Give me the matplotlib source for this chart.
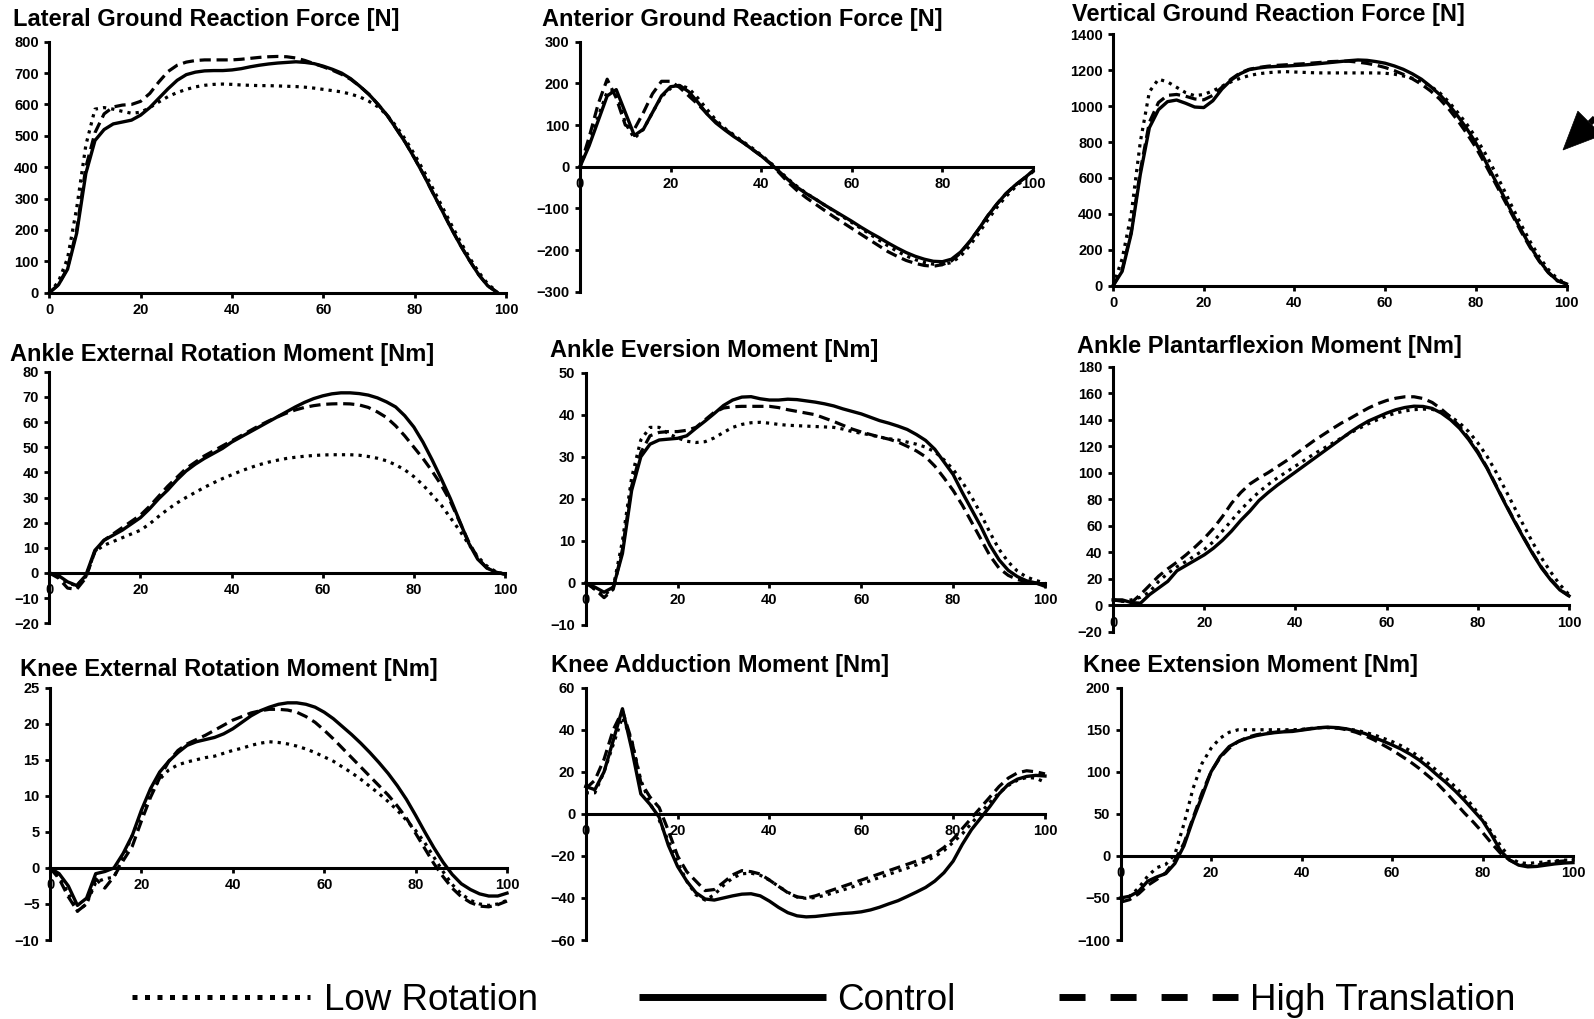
import numpy as np
import matplotlib
matplotlib.use("Agg")
import matplotlib.pyplot as plt
from matplotlib.lines import Line2D
from matplotlib.patches import Polygon

plt.rcParams["font.family"] = ["Liberation Sans", "DejaVu Sans"]

nan = np.nan
stance = np.arange(0, 101, 2)  # % of stance phase

titles = [
    "Lateral Ground Reaction Force [N]",
    "Anterior Ground Reaction Force [N]",
    "Vertical Ground Reaction Force [N]",
    "Ankle External Rotation Moment [Nm]",
    "Ankle Eversion Moment [Nm]",
    "Ankle Plantarflexion Moment [Nm]",
    "Knee External Rotation Moment [Nm]",
    "Knee Adduction Moment [Nm]",
    "Knee Extension Moment [Nm]",
]
x_ticks = [0, 20, 40, 60, 80, 100]
y_ranges = [(0, 800, 100), (-300, 300, 100), (0, 1400, 200),
            (-20, 80, 10), (-10, 50, 10), (-20, 180, 20),
            (-10, 25, 5), (-60, 60, 20), (-100, 200, 50)]
legend_labels = ["Low Rotation", "Control", "High Translation"]

# Lateral GRF
lat_low = [0, 35, 110, 270, 470, 585, 590, 585, 578, 572, 575, 590, 608, 625, 638,
           648, 656, 661, 664, 665, 664, 662, 661, 660, 660, 659, 658, 657, 655, 652,
           648, 644, 640, 633, 624, 610, 592, 565, 530, 488, 440, 388, 332, 275, 218,
           163, 112, 66, 28, 4, nan]
lat_ctrl = [0, 25, 75, 190, 380, 485, 520, 538, 544, 550, 566, 590, 620, 650, 677,
            695, 703, 707, 708, 708, 710, 714, 720, 725, 729, 732, 734, 736, 734, 730,
            722, 712, 700, 682, 658, 632, 600, 565, 522, 478, 428, 375, 318, 262, 205,
            152, 103, 58, 22, 2, nan]
lat_high = [0, 25, 80, 200, 400, 510, 570, 592, 598, 600, 610, 635, 672, 705, 725,
            735, 740, 742, 742, 742, 742, 744, 747, 750, 752, 753, 752, 748, 740, 730,
            720, 709, 696, 680, 658, 632, 600, 565, 522, 478, 428, 375, 318, 262, 205,
            152, 103, 58, 22, 2, nan]

# Anterior GRF
ant_low = [0, 55, 120, 180, 180, 105, 68, 90, 130, 168, 188, 196, 188, 165, 138,
           112, 92, 76, 60, 45, 28, 10, -10, -30, -48, -64, -78, -92, -106, -120,
           -134, -148, -162, -176, -190, -203, -214, -223, -230, -234, -235, -230, -215, -190, -160,
           -128, -98, -72, -50, -30, -12]
ant_ctrl = [0, 50, 110, 170, 185, 130, 75, 90, 130, 170, 192, 195, 180, 155, 127,
            105, 88, 72, 58, 42, 26, 8, -12, -32, -50, -65, -78, -92, -105, -118,
            -131, -145, -158, -170, -183, -195, -206, -215, -222, -227, -228, -222, -205, -180, -150,
            -118, -90, -65, -45, -28, -10]
ant_high = [0, 70, 150, 210, 165, 100, 90, 130, 175, 205, 205, 190, 170, 150, 128,
            108, 90, 74, 58, 42, 26, 8, -15, -38, -58, -75, -90, -105, -120, -134,
            -148, -162, -176, -190, -204, -215, -225, -232, -237, -239, -235, -226, -207, -180, -150,
            -118, -90, -65, -45, -28, -10]

# Vertical GRF
vert_low = [0, 150, 400, 800, 1080, 1150, 1135, 1105, 1075, 1058, 1065, 1085, 1110, 1135, 1155,
            1170, 1180, 1186, 1190, 1192, 1190, 1188, 1186, 1185, 1185, 1185, 1185, 1185, 1185, 1185,
            1183, 1178, 1168, 1155, 1138, 1112, 1075, 1025, 965, 900, 825, 740, 645, 545, 440,
            340, 245, 160, 90, 38, 12]
vert_ctrl = [0, 80, 290, 620, 880, 980, 1025, 1034, 1016, 995, 992, 1030, 1095, 1145, 1180,
             1203, 1212, 1218, 1221, 1223, 1226, 1229, 1233, 1238, 1243, 1248, 1253, 1257, 1255, 1248,
             1239, 1224, 1205, 1180, 1150, 1110, 1065, 1010, 945, 875, 795, 700, 600, 505, 405,
             310, 220, 140, 75, 28, 10]
vert_high = [0, 90, 300, 640, 910, 1020, 1060, 1065, 1055, 1040, 1035, 1060, 1105, 1150, 1185,
             1205, 1215, 1222, 1227, 1230, 1233, 1236, 1240, 1244, 1248, 1250, 1250, 1245, 1238, 1228,
             1215, 1198, 1177, 1152, 1122, 1085, 1040, 985, 920, 848, 770, 680, 585, 490, 395,
             300, 212, 135, 72, 27, 10]

# Ankle external rotation moment
aer_low = [0, -1.5, -4, -5, -1.5, 8.5, 11, 12.5, 14, 15.5, 17, 19.5, 22.5, 25.3, 27.8,
           30, 32, 34, 35.8, 37.5, 39, 40.5, 41.8, 43, 44, 44.8, 45.5, 46, 46.4, 46.7,
           46.9, 47, 47, 47, 46.8, 46.3, 45.6, 44.6, 43, 41, 38.3, 35, 31, 27, 22,
           17, 11.5, 6.5, 2.8, 0.5, -0.5]
aer_ctrl = [0, -1, -3.5, -5, -1, 9, 13, 15, 17, 19.5, 22, 25.5, 29.5, 33, 37,
            40.5, 43.2, 45.5, 47.5, 49.5, 52, 54, 56, 58, 60, 62, 64, 66, 67.8, 69.3,
            70.4, 71.2, 71.6, 71.6, 71.3, 70.7, 69.6, 68, 66, 62.5, 58, 52, 45, 37.5, 29.6,
            20.8, 12, 5.5, 2, 0.3, -0.5]
aer_high = [0, -2, -6, -6.5, -2, 8.5, 13, 15.5, 18, 20.5, 23, 26.5, 30.5, 34.5, 38,
            41.5, 44, 46.5, 48.5, 50.5, 52.5, 54.5, 56.5, 58.5, 60.3, 62, 63.5, 64.8, 65.8, 66.5,
            67, 67.2, 67.3, 67.2, 66.8, 65.8, 64, 61.8, 58.5, 54.5, 50, 45.5, 40.5, 35, 28.5,
            20.5, 12.5, 6, 2, 0.3, -0.5]

# Ankle eversion moment
aev_low = [0, -1.5, -3, -1, 10, 25, 34, 37, 37, 35.5, 34.5, 33.7, 33.4, 33.6, 34.5,
           35.8, 37, 37.7, 38.1, 38.2, 38, 37.7, 37.5, 37.4, 37.3, 37.2, 37.1, 37, 36.6, 36,
           35.6, 35.2, 34.7, 34.3, 34, 33.5, 33, 32.3, 31.2, 29.3, 27, 24, 20.5, 16.5, 12,
           8, 5, 2.8, 1.4, 0.6, 0]
aev_ctrl = [0, -1, -2.2, -1, 7, 22, 30, 33, 34, 34.2, 34.4, 35, 36.8, 38.5, 40.3,
            42.2, 43.5, 44.2, 44.3, 43.8, 43.5, 43.5, 43.7, 43.6, 43.3, 43, 42.6, 42.1, 41.4, 40.8,
            40.2, 39.4, 38.6, 38, 37.3, 36.5, 35.3, 33.9, 31.8, 28.8, 25.8, 21.5, 17.5, 13.5, 9,
            5.5, 3, 1.5, 0.5, 0, -0.8]
aev_high = [0, -1.5, -3.5, -1.5, 8, 23, 31, 35, 35.8, 36, 36, 36.3, 37, 38.8, 40.6,
            41.6, 41.9, 42, 42, 42, 42, 41.7, 41.2, 40.8, 40.4, 40, 39.2, 38.4, 37.5, 36.6,
            35.9, 35.3, 34.7, 34.2, 33.5, 32.5, 31.4, 30, 27.8, 25, 22, 18.5, 14.5, 10.5, 6.5,
            3.5, 1.8, 0.8, 0.3, 0, -0.5]

# Ankle plantarflexion moment
apf_low = [4, 3, 4, 6, 10, 18, 24, 29, 33, 37.5, 42, 48, 56, 64, 72,
           79, 85.5, 91, 96, 100.5, 105, 109.5, 114, 118, 122, 126, 130, 133.5, 137, 140,
           142.8, 145, 146.6, 147.6, 148, 147.8, 146, 142.5, 137.5, 131, 122.5, 112.5, 100.5, 87.5, 74,
           60.5, 47.5, 35.5, 25, 15.5, 8]
apf_ctrl = [4, 4, 2, 1.5, 8, 13, 18, 26, 30, 34, 38, 43, 49, 56, 64,
            71, 79, 85, 90.5, 95.5, 100.5, 105.5, 110.5, 115.5, 120.5, 125.5, 130.5, 135, 139, 142,
            145, 147.5, 149.2, 150.2, 150, 148.5, 145, 140, 133.5, 125, 115, 103.5, 90, 76.5, 63.5,
            51, 39, 28, 19, 11.5, 7]
apf_high = [4, 3, 2, 8, 15, 22, 27.5, 32.5, 38, 44, 50.5, 58, 67, 77, 85,
            91.5, 96, 100, 104.5, 109, 114, 119, 124, 128.5, 133, 137.3, 141, 145, 148.8, 152,
            154.5, 156.2, 157.3, 157.3, 156, 153, 148, 142, 135, 126, 116, 104, 90.5, 77, 64,
            51.5, 39.5, 28.5, 19.5, 12, 7]

# Knee external rotation moment
ker_low = [0, -1.2, -3.5, -6, -5, -2, -1.5, -1.3, 1.5, 4.5, 7.5, 10.3, 12.3, 13.6, 14.3,
           14.7, 15, 15.3, 15.5, 15.9, 16.3, 16.6, 17, 17.3, 17.5, 17.4, 17.2, 16.9, 16.5, 16,
           15.4, 14.8, 14, 13.2, 12.3, 11.3, 10.3, 9.2, 8, 6.6, 5.2, 3.5, 1.5, -0.5, -2.3,
           -3.6, -4.5, -5, -5.2, -5, -4.5]
ker_ctrl = [0, -0.8, -2.5, -5.2, -4.2, -0.8, -0.5, 0, 2, 4.5, 8, 11, 13.3, 14.8, 16,
            17, 17.5, 17.8, 18.1, 18.6, 19.3, 20.2, 21.1, 21.8, 22.3, 22.7, 22.9, 22.9, 22.7, 22.3,
            21.6, 20.7, 19.6, 18.5, 17.3, 16, 14.6, 13.1, 11.4, 9.5, 7.3, 5, 2.8, 0.8, -0.9,
            -2.2, -3, -3.6, -3.9, -3.9, -3.5]
ker_high = [0, -1.5, -4, -6, -5, -1.5, -2.8, -1.2, 1, 3, 6.5, 9.8, 12.5, 14.8, 16.3,
            17.2, 17.8, 18.4, 19.1, 19.8, 20.5, 21, 21.5, 21.8, 22, 22, 21.9, 21.6, 21, 20.2,
            19.1, 17.9, 16.6, 15.3, 14, 12.7, 11.4, 10.1, 8.6, 6.9, 4.8, 2.7, 0.6, -1.2, -2.8,
            -4, -4.8, -5.3, -5.4, -5.1, -4.6]

# Knee adduction moment
kad_low = [10, 10, 20, 33, 46, 35, 16, 5, -3, -13, -23, -32, -38.5, -41, -38.5,
           -34, -30.5, -28.5, -28.2, -29.2, -31.5, -34.5, -37.3, -39.5, -40.2, -39.8, -38.8, -37.5, -36.2, -34.8,
           -33.2, -31.8, -30.2, -28.8, -27.2, -25.8, -24.3, -22.5, -20.3, -17.5, -13.5, -9.5, -4.5, 0.5, 5.5,
           10, 13.5, 16, 17.3, 17, 15]
kad_ctrl = [13, 11.5, 20, 35, 50, 31, 9.5, 4.5, -1.6, -15, -25, -32, -37.5, -40.5, -41,
            -40, -39, -38.2, -38, -39, -41.5, -44.5, -47, -48.5, -49, -48.8, -48.3, -47.8, -47.4, -47.1,
            -46.6, -45.7, -44.4, -42.8, -41.3, -39.3, -37.2, -35, -32, -28, -22.5, -14.5, -7.5, -2, 3.5,
            9.5, 14, 16.5, 17.8, 18.3, 18]
kad_high = [12, 16, 26, 40, 49, 35, 15, 8, 3, -8, -20, -27.5, -32, -36.5, -36,
            -32.6, -29, -27, -27.5, -28.6, -31.5, -34.5, -37.5, -39.5, -40, -39, -37.5, -36, -34.5, -33,
            -31.5, -30, -28.5, -27, -25.5, -24, -22.5, -21, -19, -16, -12, -7, -2, 3, 8,
            13, 17, 19.5, 20.5, 20, 19]

# Knee extension moment
kex_low = [-52, -48, -38, -24, -14, -10, 2, 38, 80, 110, 128, 140, 147, 150, 150,
           150, 150, 150, 150, 150, 150.5, 151.5, 152.5, 152.5, 152, 151, 149.5, 147, 144, 140,
           136, 131, 125, 118, 110, 101, 92, 82, 71, 58, 44, 28, 12, -2, -8,
           -9, -8, -7, -6, -5, -5]
kex_ctrl = [-50, -48, -42, -30, -25, -21, -9, 12, 43, 71, 100, 118, 130, 136, 140,
            143, 145, 146.5, 147.5, 148, 149.5, 151, 152.5, 153, 152.5, 151, 148.5, 145.5, 141, 136.5,
            132, 127, 121, 114, 105.5, 96, 87, 77, 66, 54, 42, 25, 6, -5, -11,
            -13, -12.5, -11, -9.5, -8.5, -8]
kex_high = [-55, -52, -45, -35, -28, -20, -5, 15, 45, 75, 100, 117, 128, 136, 141,
            144, 146, 147, 148, 149, 150, 151.5, 152.5, 153, 152, 150, 147, 143, 138, 132,
            126, 119, 112, 104, 95, 86, 75, 63, 51, 40, 28, 15, 3, -5, -10,
            -12, -11, -9, -7, -6, -5]

panels = [
    (lat_low, lat_ctrl, lat_high),
    (ant_low, ant_ctrl, ant_high),
    (vert_low, vert_ctrl, vert_high),
    (aer_low, aer_ctrl, aer_high),
    (aev_low, aev_ctrl, aev_high),
    (apf_low, apf_ctrl, apf_high),
    (ker_low, ker_ctrl, ker_high),
    (kad_low, kad_ctrl, kad_high),
    (kex_low, kex_ctrl, kex_high),
]

# ---- layout (pixels) ----
W, H = 1594, 1019
# (x of 0 %, x of 100 %, y of top limit, y of bottom limit)
boxes = [
    (49.3, 506.0, 41.7, 292.7),
    (580.0, 1033.0, 41.7, 291.7),
    (1113.1, 1566.5, 34.3, 285.7),
    (49.3, 505.0, 371.7, 623.3),
    (585.7, 1045.0, 372.7, 625.0),
    (1113.1, 1569.0, 366.7, 631.7),
    (50.0, 507.0, 687.7, 940.0),
    (585.7, 1045.0, 687.7, 940.0),
    (1120.6, 1573.0, 687.7, 940.0),
]
# title left edge and baseline
title_xy = [(12.7, 26), (541.7, 26), (1071.8, 20.7),
            (10, 361), (550, 357.3), (1077.1, 352.7),
            (20, 676), (550.7, 672.3), (1083.1, 672.3)]

styles = [
    dict(linestyle=(0, (1.0, 1.6)), lw=2.3, dash_capstyle="butt"),
    dict(linestyle="-", lw=2.4),
    dict(linestyle=(0, (3.5, 1.8)), lw=2.3, dash_capstyle="butt"),
]

fig = plt.figure(figsize=(W / 100, H / 100), dpi=100)


def fig_xy(px, py):
    """Pixel position (from top-left) to figure fraction."""
    return px / W, 1 - py / H


for i in range(9):
    x0, x1, yt, yb = boxes[i]
    ax = fig.add_axes([x0 / W, 1 - yb / H, (x1 - x0) / W, (yb - yt) / H])
    ax.patch.set_alpha(0)
    for series, st in zip(panels[i], styles):
        ax.plot(stance, series, color="black", clip_on=False, **st)
    ymin, ymax, ystep = y_ranges[i]
    ax.set_xlim(0, 100)
    ax.set_ylim(ymin, ymax)
    ax.set_xticks(x_ticks)
    ax.set_yticks(np.arange(ymin, ymax + ystep / 2, ystep))
    for side in ("top", "right"):
        ax.spines[side].set_visible(False)
    ax.spines["bottom"].set_position(("data", 0))
    for side in ("left", "bottom"):
        ax.spines[side].set_linewidth(2.2)
        ax.spines[side].set_color("black")
        ax.spines[side].set_zorder(1)
    ax.tick_params(axis="both", direction="out", length=3.5, width=2.0,
                   labelsize=10.5, pad=4, colors="black")
    for lab in ax.get_xticklabels() + ax.get_yticklabels():
        lab.set_fontweight("bold")
    fig.text(*fig_xy(*title_xy[i]), titles[i], ha="left", va="baseline",
             fontsize=17, fontweight="bold")

# ---- legend drawn along the bottom ----
line_y = 997
text_y = 1010
legend_lines = [
    ((131.7, 310), dict(lw=3.6, linestyle=(0, (1.0, 1.5)), dash_capstyle="butt")),
    ((639.3, 826), dict(lw=5.0, solid_capstyle="butt")),
    ((1059, 1238), dict(lw=5.0, linestyle=(0, (3.75, 3.6)), dash_capstyle="butt")),
]
for (xa, xb), kw in legend_lines:
    (fa, fy), (fb, _) = fig_xy(xa, line_y), fig_xy(xb, line_y)
    fig.add_artist(Line2D([fa, fb], [fy, fy], color="black", **kw))
for xpix, lab in zip([324, 837.3, 1250], legend_labels):
    fig.text(*fig_xy(xpix, text_y), lab, ha="left", va="baseline", fontsize=26.5)

# ---- pointer arrow at the top right (tip at lower left) ----
tip = np.array([1563.0, 150.0])
back = np.array([1.0, -1.0]) / np.sqrt(2)     # towards the upper right
side = np.array([1.0, 1.0]) / np.sqrt(2)
head_len, half_w = 38.0, 17.0
base = tip + head_len * back
corners = [tip, base + half_w * side, base - half_w * side]
fig.add_artist(Polygon([fig_xy(*c) for c in corners], closed=True,
                       transform=fig.transFigure, facecolor="black",
                       edgecolor="black", lw=0.5))
tail = base + 60 * back
fig.add_artist(Line2D([fig_xy(*base)[0], fig_xy(*tail)[0]],
                      [fig_xy(*base)[1], fig_xy(*tail)[1]],
                      color="black", lw=4.3, solid_capstyle="butt"))

fig.savefig("out.png", dpi=100)
